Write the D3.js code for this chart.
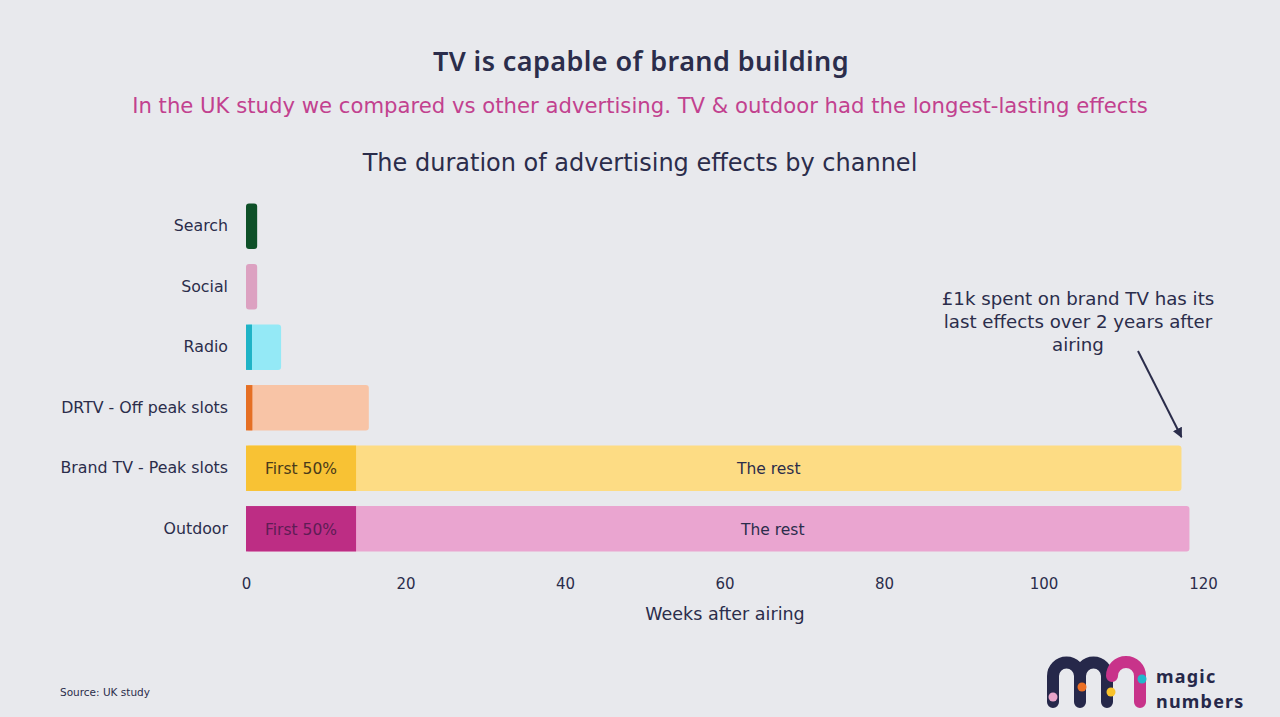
<!DOCTYPE html>
<html>
<head>
<meta charset="utf-8">
<script src="https://cdn.jsdelivr.net/npm/d3@7"></script>
<style>
	body { margin: 0; background: #e8e9ed; }
	svg { display: block; font-family: "DejaVu Sans", sans-serif; }
</style>
</head>
<body>
<div id="svg-container"></div>
<script>
// DATA
const categories = ["Search", "Social", "Radio", "DRTV - Off peak slots", "Brand TV - Peak slots", "Outdoor"];
const firstHalf = [0, 0, 0.75, 0.8, 13.8, 13.8];
const totalWeeks = [1.4, 1.4, 4.4, 15.4, 117.3, 118.3];
const firstColors = ["#0e5028", "#dca1c1", "#1fb3c6", "#e56f24", "#f8c234", "#bd2d84"];
const restColors = ["#0e5028", "#dca1c1", "#94e9f6", "#f8c4a6", "#fddc84", "#eaa5d0"];
const segLabels = [null, null, null, null, "First 50%", "First 50%"];
const restLabels = [null, null, null, null, "The rest", "The rest"];
const xTicks = [0, 20, 40, 60, 80, 100, 120];

const W = 1280, H = 717;
const navy = "#2b2d4b";
const FONT = "\"DejaVu Sans\", sans-serif";

const svg = d3.select("#svg-container").append("svg")
	.attr("width", W)
	.attr("height", H);

svg.append("rect").attr("width", W).attr("height", H).attr("fill", "#e8e9ed");

// titles
svg.append("text")
	.attr("x", 641).attr("y", 71)
	.attr("text-anchor", "middle")
	.attr("font-family", "\"Noto Sans\", sans-serif")
	.attr("font-size", 27).attr("font-weight", 600)
	.attr("letter-spacing", 0.4)
	.attr("fill", navy)
	.text("TV is capable of brand building");
svg.append("text")
	.attr("x", 640).attr("y", 113)
	.attr("text-anchor", "middle")
	.attr("font-size", 21.2)
	.attr("fill", "#c2418f")
	.text("In the UK study we compared vs other advertising. TV & outdoor had the longest-lasting effects");
svg.append("text")
	.attr("x", 640).attr("y", 171)
	.attr("text-anchor", "middle")
	.attr("font-size", 24)
	.attr("fill", navy)
	.text("The duration of advertising effects by channel");

// scales
const x = d3.scaleLinear().domain([0, 120]).range([246, 1203]);
const y = d3.scaleBand().domain(categories).range([196, 559]).paddingInner(0.25).paddingOuter(0.125);

// bars: full length rounded, then first segment over it
const rows = svg.append("g").selectAll("g")
	.data(categories)
	.join("g");

rows.append("rect")
	.attr("x", x(0))
	.attr("y", d => y(d))
	.attr("height", y.bandwidth())
	.attr("width", (d, i) => x(totalWeeks[i]) - x(0))
	.attr("rx", 3)
	.attr("fill", (d, i) => restColors[i]);

rows.append("rect")
	.attr("x", x(0))
	.attr("y", d => y(d))
	.attr("height", y.bandwidth())
	.attr("width", (d, i) => x(firstHalf[i]) - x(0))
	.attr("fill", (d, i) => firstColors[i]);

rows.filter((d, i) => segLabels[i])
	.append("text")
	.attr("x", d => (x(0) + x(firstHalf[categories.indexOf(d)])) / 2)
	.attr("y", d => y(d) + y.bandwidth() / 2 + 6)
	.attr("text-anchor", "middle")
	.attr("font-size", 15.5)
	.attr("fill", d => d === "Outdoor" ? "#5e1d55" : "#4a3a1a")
	.text(d => segLabels[categories.indexOf(d)]);

rows.filter((d, i) => restLabels[i])
	.append("text")
	.attr("x", d => { const i = categories.indexOf(d); return (x(firstHalf[i]) + x(totalWeeks[i])) / 2; })
	.attr("y", d => y(d) + y.bandwidth() / 2 + 6)
	.attr("text-anchor", "middle")
	.attr("font-size", 15.5)
	.attr("fill", navy)
	.text(d => restLabels[categories.indexOf(d)]);

// axes
const xAxis = d3.axisBottom(x).tickValues(xTicks).tickSize(0).tickPadding(0);
const gx = svg.append("g")
	.attr("transform", "translate(0, 578)")
	.call(xAxis);
gx.select(".domain").remove();
gx.selectAll("text")
	.attr("font-family", FONT)
	.attr("font-size", 15)
	.attr("fill", navy);

const yAxis = d3.axisLeft(y).tickSize(0).tickPadding(18);
const gy = svg.append("g")
	.attr("transform", `translate(${x(0)}, 0)`)
	.call(yAxis);
gy.select(".domain").remove();
gy.selectAll("text")
	.attr("font-family", FONT)
	.attr("font-size", 15.8)
	.attr("fill", navy);

svg.append("text")
	.attr("x", 725).attr("y", 620)
	.attr("text-anchor", "middle")
	.attr("font-size", 17.5)
	.attr("fill", navy)
	.text("Weeks after airing");

// annotation
const note = ["£1k spent on brand TV has its", "last effects over 2 years after", "airing"];
svg.append("text")
	.attr("text-anchor", "middle")
	.attr("font-size", 18.2)
	.attr("fill", navy)
	.selectAll("tspan")
	.data(note)
	.join("tspan")
	.attr("x", 1078)
	.attr("y", (d, i) => 305 + i * 23)
	.text(d => d);

svg.append("defs").append("marker")
	.attr("id", "arrow")
	.attr("viewBox", "0 0 10 10")
	.attr("refX", 9).attr("refY", 5)
	.attr("markerWidth", 5).attr("markerHeight", 5)
	.attr("orient", "auto")
	.append("path")
	.attr("d", "M0,0 L10,5 L0,10 Z")
	.attr("fill", navy);

svg.append("line")
	.attr("x1", 1138).attr("y1", 351)
	.attr("x2", x(totalWeeks[4])).attr("y2", 437)
	.attr("stroke", navy)
	.attr("stroke-width", 2)
	.attr("marker-end", "url(#arrow)");

// source
svg.append("text")
	.attr("x", 60).attr("y", 696)
	.attr("font-size", 10.5)
	.attr("fill", navy)
	.text("Source: UK study");

// logo
const logo = svg.append("g");
logo.append("path")
	.attr("d", "M1053,702 V676 A13.5,13.5 0 0 1 1080,676 V702 M1080,676 A13.5,13.5 0 0 1 1107,676 V702")
	.attr("fill", "none").attr("stroke", "#26284a").attr("stroke-width", 12).attr("stroke-linecap", "round");
logo.append("path")
	.attr("d", "M1112,676 A14,14 0 0 1 1140,676 V702")
	.attr("fill", "none").attr("stroke", "#c8338a").attr("stroke-width", 12).attr("stroke-linecap", "round");
logo.append("circle").attr("cx", 1053).attr("cy", 697).attr("r", 4.5).attr("fill", "#e7a4c8");
logo.append("circle").attr("cx", 1082).attr("cy", 687).attr("r", 4.5).attr("fill", "#ec6f24");
logo.append("circle").attr("cx", 1111).attr("cy", 692).attr("r", 4.5).attr("fill", "#f9c32c");
logo.append("circle").attr("cx", 1142).attr("cy", 679).attr("r", 4.5).attr("fill", "#21b8cc");
logo.selectAll("text.brand")
	.data(["magic", "numbers"])
	.join("text")
	.attr("class", "brand")
	.attr("x", 1156)
	.attr("y", (d, i) => 683 + i * 24.5)
	.attr("font-family", "\"Noto Sans\", sans-serif")
	.attr("font-size", 18).attr("font-weight", 700)
	.attr("letter-spacing", 1.2)
	.attr("fill", "#26284a")
	.text(d => d);
</script>
</body>
</html>
